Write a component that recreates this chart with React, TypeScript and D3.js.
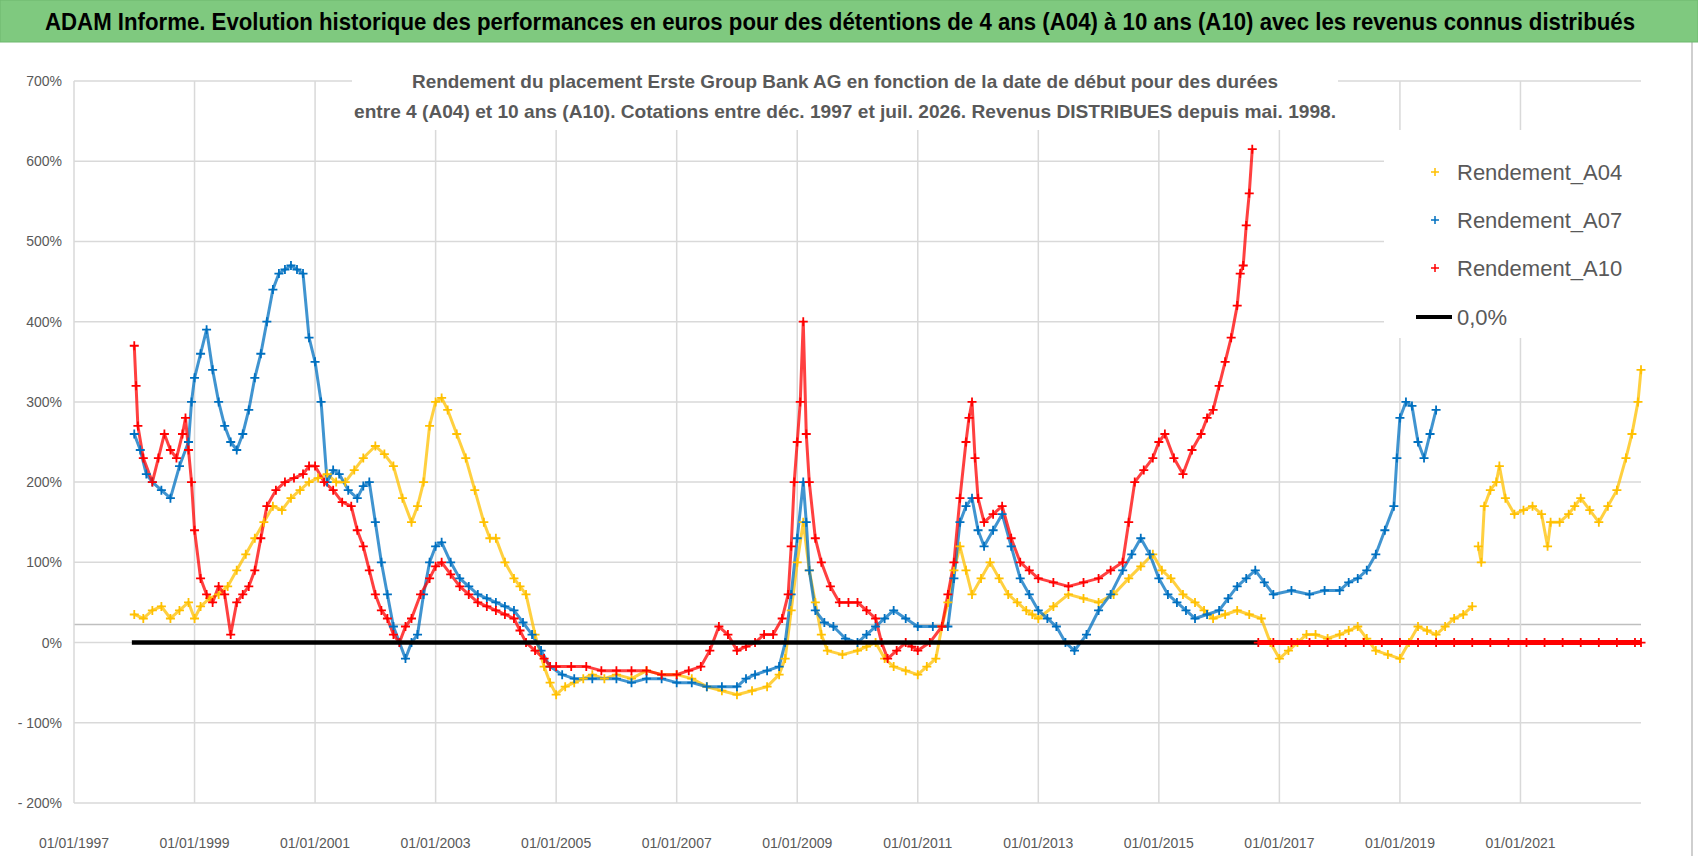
import React from "react";
import * as d3 from "d3";

const yTicks = [-200, -100, 0, 100, 200, 300, 400, 500, 600, 700];
const xTickYears = [1997, 1999, 2001, 2003, 2005, 2007, 2009, 2011, 2013, 2015, 2017, 2019, 2021];

// [year (decimal), % return]
const a04: [number, number][] = [
  [1998.0,35],[1998.15,30],[1998.3,40],[1998.45,45],[1998.6,30],[1998.75,40],[1998.9,50],[1999.0,30],[1999.1,45],[1999.25,55],[1999.4,60],[1999.55,70],[1999.7,90],[1999.85,110],[2000.0,130],[2000.15,150],[2000.3,170],[2000.45,165],[2000.6,180],[2000.75,190],[2000.9,200],[2001.05,205],[2001.2,210],[2001.35,200],[2001.5,200],[2001.65,215],[2001.8,230],[2002.0,245],[2002.15,235],[2002.3,220],[2002.45,180],[2002.6,150],[2002.7,170],[2002.8,200],[2002.9,270],[2003.0,300],[2003.1,305],[2003.2,290],[2003.35,260],[2003.5,230],[2003.65,190],[2003.8,150],[2003.9,130],[2004.0,130],[2004.15,100],[2004.3,80],[2004.4,70],[2004.5,60],[2004.65,10],[2004.8,-30],[2004.9,-50],[2005.0,-65],[2005.15,-55],[2005.3,-50],[2005.45,-45],[2005.6,-40],[2005.8,-45],[2006.0,-40],[2006.25,-45],[2006.5,-35],[2006.75,-40],[2007.0,-40],[2007.25,-45],[2007.5,-55],[2007.75,-60],[2008.0,-65],[2008.25,-60],[2008.5,-55],[2008.7,-40],[2008.8,-20],[2008.9,40],[2009.0,100],[2009.1,150],[2009.2,90],[2009.3,50],[2009.4,10],[2009.5,-10],[2009.75,-15],[2010.0,-10],[2010.15,-5],[2010.3,0],[2010.45,-20],[2010.6,-30],[2010.8,-35],[2011.0,-40],[2011.15,-30],[2011.3,-20],[2011.4,20],[2011.5,50],[2011.6,90],[2011.7,120],[2011.8,90],[2011.9,60],[2012.05,80],[2012.2,100],[2012.35,80],[2012.5,60],[2012.65,50],[2012.8,40],[2012.9,35],[2013.0,30],[2013.25,45],[2013.5,60],[2013.75,55],[2014.0,50],[2014.25,60],[2014.5,80],[2014.7,95],[2014.9,110],[2015.05,90],[2015.2,80],[2015.4,60],[2015.6,50],[2015.75,40],[2015.9,30],[2016.1,35],[2016.3,40],[2016.5,35],[2016.7,30],[2016.85,0],[2017.0,-20],[2017.15,-10],[2017.3,0],[2017.45,10],[2017.6,10],[2017.8,5],[2018.0,10],[2018.15,15],[2018.3,20],[2018.45,5],[2018.6,-10],[2018.8,-15],[2019.0,-20],[2019.15,0],[2019.3,20],[2019.45,15],[2019.6,10],[2019.75,20],[2019.9,30],[2020.05,35],[2020.2,45]
];
const a04Late: [number, number][] = [
  [2020.3,120],[2020.35,100],[2020.4,170],[2020.5,190],[2020.6,200],[2020.65,220],[2020.75,180],[2020.9,160],[2021.05,165],[2021.2,170],[2021.35,160],[2021.45,120],[2021.5,150],[2021.65,150],[2021.8,160],[2021.9,170],[2022.0,180],[2022.15,165],[2022.3,150],[2022.45,170],[2022.6,190],[2022.75,230],[2022.85,260],[2022.95,300],[2023.0,340]
];

const a07: [number, number][] = [
  [1998.0,260],[1998.1,240],[1998.2,210],[1998.3,200],[1998.45,190],[1998.6,180],[1998.75,220],[1998.9,250],[1998.95,300],[1999.0,330],[1999.1,360],[1999.2,390],[1999.3,340],[1999.4,300],[1999.5,270],[1999.6,250],[1999.7,240],[1999.8,260],[1999.9,290],[2000.0,330],[2000.1,360],[2000.2,400],[2000.3,440],[2000.4,460],[2000.5,465],[2000.6,470],[2000.7,465],[2000.8,460],[2000.9,380],[2001.0,350],[2001.1,300],[2001.2,200],[2001.3,215],[2001.4,210],[2001.55,190],[2001.7,180],[2001.8,195],[2001.9,200],[2002.0,150],[2002.1,100],[2002.2,60],[2002.3,20],[2002.4,0],[2002.5,-20],[2002.6,0],[2002.7,10],[2002.8,60],[2002.9,100],[2003.0,120],[2003.1,125],[2003.25,100],[2003.4,80],[2003.55,70],[2003.7,60],[2003.85,55],[2004.0,50],[2004.15,45],[2004.3,40],[2004.45,25],[2004.6,10],[2004.75,-10],[2004.9,-30],[2005.1,-40],[2005.3,-45],[2005.6,-45],[2006.0,-45],[2006.25,-50],[2006.5,-45],[2006.75,-45],[2007.0,-50],[2007.25,-50],[2007.5,-55],[2007.75,-55],[2008.0,-55],[2008.15,-45],[2008.3,-40],[2008.5,-35],[2008.7,-30],[2008.8,0],[2008.9,60],[2009.0,130],[2009.1,200],[2009.15,150],[2009.2,90],[2009.3,40],[2009.45,25],[2009.6,20],[2009.8,5],[2010.0,0],[2010.15,10],[2010.3,20],[2010.45,30],[2010.6,40],[2010.8,30],[2011.0,20],[2011.25,20],[2011.5,20],[2011.6,80],[2011.7,150],[2011.8,170],[2011.9,180],[2012.0,140],[2012.1,120],[2012.25,140],[2012.4,160],[2012.55,120],[2012.7,80],[2012.85,60],[2013.0,40],[2013.15,30],[2013.3,20],[2013.45,0],[2013.6,-10],[2013.8,10],[2014.0,40],[2014.2,60],[2014.4,90],[2014.55,110],[2014.7,130],[2014.85,110],[2015.0,80],[2015.15,60],[2015.3,50],[2015.45,40],[2015.6,30],[2015.8,35],[2016.0,40],[2016.15,55],[2016.3,70],[2016.45,80],[2016.6,90],[2016.75,75],[2016.9,60],[2017.2,65],[2017.5,60],[2017.75,65],[2018.0,65],[2018.15,75],[2018.3,80],[2018.45,90],[2018.6,110],[2018.75,140],[2018.9,170],[2018.95,230],[2019.0,280],[2019.1,300],[2019.2,295],[2019.3,250],[2019.4,230],[2019.5,260],[2019.6,290]
];

const a10: [number, number][] = [
  [1998.0,370],[1998.03,320],[1998.06,270],[1998.15,230],[1998.3,200],[1998.4,230],[1998.5,260],[1998.6,240],[1998.7,230],[1998.8,260],[1998.85,280],[1998.9,240],[1998.95,200],[1999.0,140],[1999.1,80],[1999.2,60],[1999.3,50],[1999.4,70],[1999.5,60],[1999.6,10],[1999.7,50],[1999.8,60],[1999.9,70],[2000.0,90],[2000.1,130],[2000.2,170],[2000.35,190],[2000.5,200],[2000.65,205],[2000.8,210],[2000.9,220],[2001.0,220],[2001.15,200],[2001.3,190],[2001.45,175],[2001.6,170],[2001.7,140],[2001.8,120],[2001.9,90],[2002.0,60],[2002.1,40],[2002.2,30],[2002.3,10],[2002.4,0],[2002.5,20],[2002.6,30],[2002.75,60],[2002.9,80],[2003.0,95],[2003.1,100],[2003.25,85],[2003.4,70],[2003.55,60],[2003.7,50],[2003.85,45],[2004.0,40],[2004.15,35],[2004.3,30],[2004.4,15],[2004.5,0],[2004.65,-10],[2004.8,-20],[2004.9,-30],[2005.0,-30],[2005.25,-30],[2005.5,-30],[2005.75,-35],[2006.0,-35],[2006.25,-35],[2006.5,-35],[2006.75,-40],[2007.0,-40],[2007.2,-35],[2007.4,-30],[2007.55,-10],[2007.7,20],[2007.85,10],[2008.0,-10],[2008.15,-5],[2008.3,0],[2008.45,10],[2008.6,10],[2008.75,30],[2008.85,60],[2008.9,120],[2008.95,200],[2009.0,250],[2009.05,300],[2009.1,400],[2009.15,260],[2009.2,200],[2009.3,130],[2009.4,100],[2009.55,70],[2009.7,50],[2009.85,50],[2010.0,50],[2010.15,40],[2010.3,30],[2010.4,0],[2010.5,-20],[2010.65,-10],[2010.8,0],[2010.9,-5],[2011.0,-10],[2011.2,0],[2011.4,20],[2011.5,60],[2011.6,100],[2011.7,180],[2011.8,250],[2011.85,280],[2011.9,300],[2011.95,230],[2012.0,180],[2012.1,150],[2012.25,160],[2012.4,170],[2012.55,130],[2012.7,100],[2012.85,90],[2013.0,80],[2013.25,75],[2013.5,70],[2013.75,75],[2014.0,80],[2014.2,90],[2014.4,100],[2014.5,150],[2014.6,200],[2014.75,215],[2014.9,230],[2015.0,250],[2015.1,260],[2015.25,230],[2015.4,210],[2015.55,240],[2015.7,260],[2015.8,280],[2015.9,290],[2016.0,320],[2016.1,350],[2016.2,380],[2016.3,420],[2016.35,460],[2016.4,470],[2016.45,520],[2016.5,560],[2016.55,615]
];
const a10Zero: [number, number][] = [
  [2016.65,0],[2016.9,0],[2017.2,0],[2017.5,0],[2017.8,0],[2018.1,0],[2018.4,0],[2018.7,0],[2019.0,0],[2019.3,0],[2019.6,0],[2019.9,0],[2020.2,0],[2020.5,0],[2020.8,0],[2021.1,0],[2021.4,0],[2021.7,0],[2022.0,0],[2022.3,0],[2022.6,0],[2022.9,0],[2023.0,0]
];

const zeroLine: [number, number][] = [[1997.96, 0], [2023.0, 0]];

const seriesNames = ["Rendement_A04", "Rendement_A07", "Rendement_A10"];
const seriesColors = ["#FFC000", "#0070C0", "#FF0000"];
const seriesParts: [number, number][][][] = [[a04, a04Late], [a07], [a10]];

const W = 1698, H = 856;
const left = 74, right = 1641, top = 81, bottom = 803;
const font = "'Liberation Sans Narrow', 'Liberation Sans', Arial, sans-serif";

export default function App() {
  const x = d3.scaleLinear().domain([1997, 2023]).range([left, right]);
  const y = d3.scaleLinear().domain([-200, 700]).range([bottom, top]);
  const line = d3.line<[number, number]>().x(d => x(d[0])).y(d => y(d[1]));
  const plus = (cx: number, cy: number, s: number) => `M${cx - s},${cy}H${cx + s}M${cx},${cy - s}V${cy + s}`;

  return (
    <svg width={W} height={H} style={{ position: "absolute", left: 0, top: 0, background: "#fff" }}>
      <rect x={0} y={0} width={W} height={H} fill="#fff" />
      {yTicks.map(t => (
        <line key={"gy" + t} x1={left} x2={right} y1={y(t)} y2={y(t)} stroke="#d9d9d9" strokeWidth={1.5} />
      ))}
      <line x1={left} x2={right} y1={y(22.5)} y2={y(22.5)} stroke="#bfbfbf" strokeWidth={1.5} />
      {xTickYears.map(t => (
        <line key={"gx" + t} x1={x(t)} x2={x(t)} y1={top} y2={bottom} stroke="#d9d9d9" strokeWidth={1.5} />
      ))}
      <rect x={352} y={52} width={986} height={78} fill="#fff" />
      <rect x={1384} y={130} width={306} height={208} fill="#fff" />
      <text x={845} y={88} textAnchor="middle" fontFamily={font} fontWeight="bold" fontSize={19} fill="#595959" textLength={866} lengthAdjust="spacingAndGlyphs">
        Rendement du placement Erste Group Bank AG en fonction de la date de début pour des durées
      </text>
      <text x={845} y={118} textAnchor="middle" fontFamily={font} fontWeight="bold" fontSize={19} fill="#595959" textLength={982} lengthAdjust="spacingAndGlyphs">
        entre 4 (A04) et 10 ans (A10). Cotations entre déc. 1997 et juil. 2026. Revenus DISTRIBUES depuis mai. 1998.
      </text>
      {seriesParts.map((parts, i) => parts.map((d, j) => (
        <path key={"l" + i + j} d={line(d) || ""} fill="none" stroke={seriesColors[i]} strokeWidth={3} strokeLinejoin="round" opacity={0.75} />
      )))}
      {seriesParts.map((parts, i) => parts.map((d, j) => (
        <path key={"m" + i + j} d={d.map(p => plus(x(p[0]), y(p[1]), 4.5)).join("")} stroke={seriesColors[i]} strokeWidth={1.8} fill="none" />
      )))}
      <path d={line(zeroLine) || ""} stroke="#000" strokeWidth={4.5} fill="none" />
      <path d={line(a10Zero) || ""} stroke="#FF0000" strokeWidth={5} fill="none" />
      <path d={a10Zero.map(p => plus(x(p[0]), y(p[1]), 4.5)).join("")} stroke="#FF0000" strokeWidth={1.8} />
      {yTicks.map(t => (
        <text key={"ty" + t} x={62} y={y(t) + 5} textAnchor="end" fontFamily={font} fontSize={14} fill="#595959">
          {t < 0 ? `- ${Math.abs(t)}%` : `${t}%`}
        </text>
      ))}
      {xTickYears.map(t => (
        <text key={"tx" + t} x={x(t)} y={848} textAnchor="middle" fontFamily={font} fontSize={14} fill="#595959">
          {`01/01/${t}`}
        </text>
      ))}
      {seriesNames.map((n, i) => (
        <g key={"lg" + i}>
          <path d={plus(1435, 172 + i * 48, 4)} stroke={seriesColors[i]} strokeWidth={1.5} />
          <text x={1457} y={180 + i * 48} fontFamily={font} fontSize={22} fill="#595959">{n}</text>
        </g>
      ))}
      <line x1={1416} x2={1452} y1={317} y2={317} stroke="#000" strokeWidth={4} />
      <text x={1457} y={325} fontFamily={font} fontSize={22} fill="#595959">0,0%</text>
      <line x1={1692} x2={1692} y1={42} y2={H} stroke="#bfbfbf" strokeWidth={1.5} />
      <rect x={0} y={0} width={W} height={42} fill="#7FC97F" stroke="#6fb86f" />
      <text x={840} y={30} textAnchor="middle" fontFamily={font} fontWeight="bold" fontSize={24} fill="#000" textLength={1590} lengthAdjust="spacingAndGlyphs">
        ADAM Informe. Evolution historique des performances en euros pour des détentions de 4 ans (A04) à 10 ans (A10) avec les revenus connus distribués
      </text>
    </svg>
  );
}
